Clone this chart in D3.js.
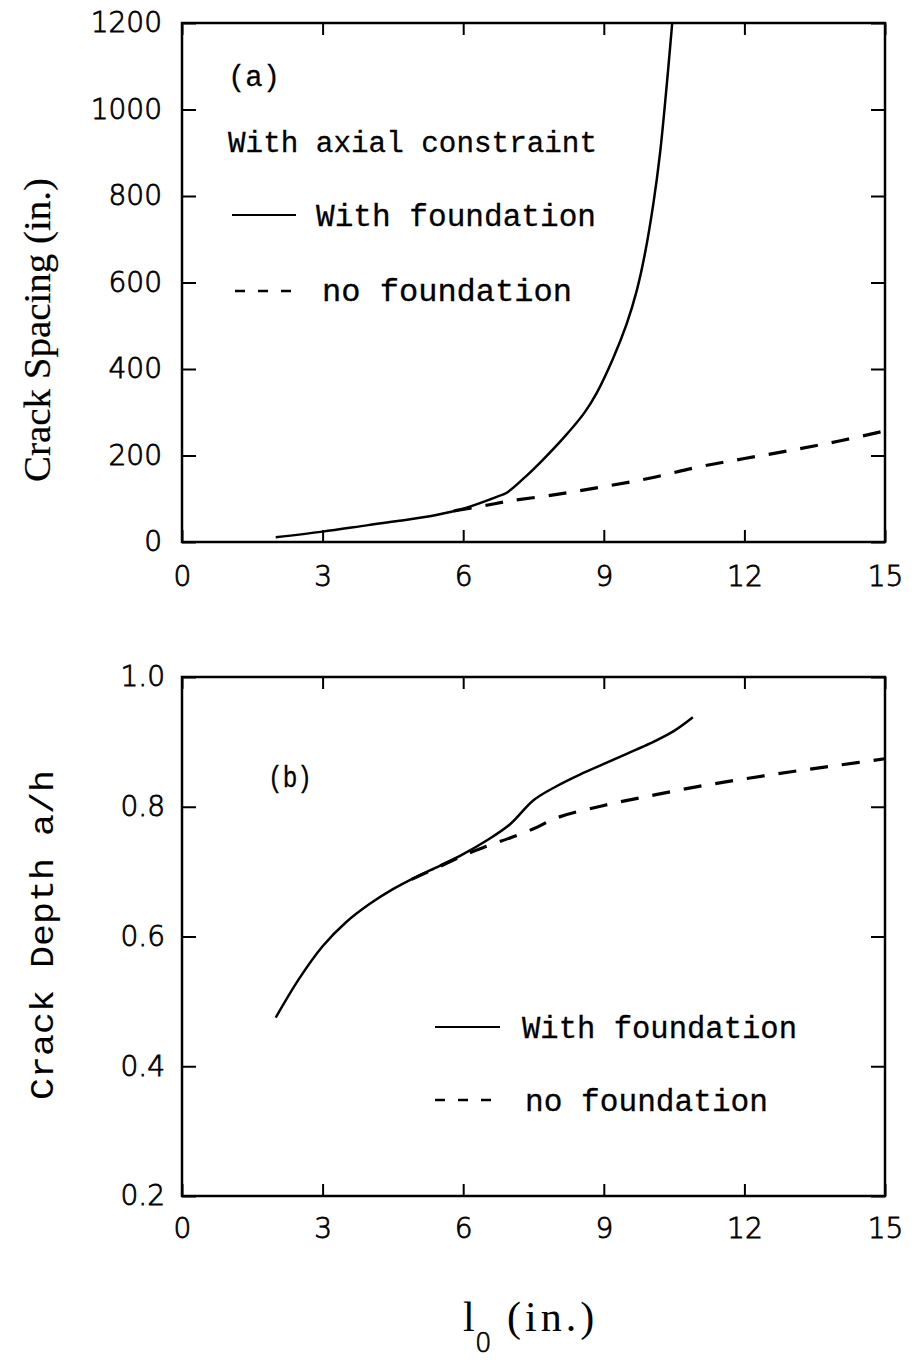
<!DOCTYPE html>
<html><head><meta charset="utf-8">
<script src="https://cdn.jsdelivr.net/npm/d3@7"></script>
<style>body{margin:0;background:#fff}</style>
</head><body>
<svg id="c" width="915" height="1360"></svg>
<script>
// ---- data ----
const xTicks = [0, 3, 6, 9, 12, 15];
const yTicksA = [0, 200, 400, 600, 800, 1000, 1200];
const yTicksB = [0.2, 0.4, 0.6, 0.8, 1.0];

const aSolidL = [2, 3, 3.97, 4.64, 5.4, 5.97, 6.73, 6.93, 7.32, 7.7, 8.16, 8.58, 8.85, 9.2, 9.49, 9.7, 9.88, 10.06, 10.2, 10.34, 10.46];
const aSolidV = [11, 24, 39, 49, 62, 76, 105, 114, 150, 190, 243, 298, 345, 425, 505, 580, 668, 784, 899, 1053, 1200];
const aDashL = [5.8, 6.5, 7, 8, 9, 10, 11, 12, 13, 14, 15];
const aDashV = [72, 85, 95, 110, 128, 148, 173, 193, 212, 233, 257];

const bSolidL = [2, 2.5, 3, 3.5, 4, 4.5, 5, 5.5, 6, 6.5, 7, 7.5, 8, 8.5, 9, 9.5, 10, 10.5, 10.9];
const bSolidV = [0.475, 0.535, 0.585, 0.622, 0.65, 0.673, 0.692, 0.709, 0.727, 0.748, 0.773, 0.81, 0.832, 0.85, 0.866, 0.882, 0.898, 0.917, 0.938];
const bDashL = [4.9, 5.5, 6, 6.5, 7, 7.5, 8, 9, 10, 11, 12, 13, 14, 15];
const bDashV = [0.688, 0.708, 0.725, 0.739, 0.752, 0.766, 0.783, 0.802, 0.817, 0.831, 0.843, 0.854, 0.864, 0.874];

const legendLabels = ["With foundation", "no foundation"];

// ---- drawing ----
const svg = d3.select("#c");
const L = 182, R = 885;
const x = d3.scaleLinear().domain([0, 15]).range([L, R]);
const sans = "DejaVu Sans, Liberation Sans, sans-serif";

function panel(top, bottom, yDomain, yTicks, fmt, padY, padX) {
  const y = d3.scaleLinear().domain(yDomain).range([bottom, top]);
  const g = svg.append("g");
  g.append("rect").attr("x", L).attr("y", top).attr("width", R - L).attr("height", bottom - top)
    .attr("fill", "none").attr("stroke", "#000").attr("stroke-width", 2.5);
  const bx = g.append("g").attr("transform", `translate(0,${bottom})`)
    .call(d3.axisBottom(x).tickValues(xTicks).tickSizeInner(-12).tickSizeOuter(0).tickPadding(padX));
  const tx = g.append("g").attr("transform", `translate(0,${top})`)
    .call(d3.axisTop(x).tickValues(xTicks).tickSizeInner(-12).tickSizeOuter(0).tickFormat(""));
  const ly = g.append("g").attr("transform", `translate(${L},0)`)
    .call(d3.axisLeft(y).tickValues(yTicks).tickFormat(fmt).tickSizeInner(-14).tickSizeOuter(0).tickPadding(padY));
  const ry = g.append("g").attr("transform", `translate(${R},0)`)
    .call(d3.axisRight(y).tickValues(yTicks).tickSizeInner(-14).tickSizeOuter(0).tickFormat(""));
  [bx, tx, ly, ry].forEach(a => {
    a.select(".domain").remove();
    a.selectAll(".tick line").attr("stroke", "#000").attr("stroke-width", 2);
    a.selectAll("text").attr("font-family", sans)
      .attr("font-size", 28).attr("fill", "#000").attr("font-weight", 200)
      .attr("stroke", "#000").attr("stroke-width", 0.8);
  });
  bx.selectAll("text").attr("dy", "0.73em");
  return y;
}

const yA = panel(23, 542, [0, 1200], yTicksA, d3.format("d"), 20, 24);
const yB = panel(677, 1196, [0.2, 1.0], yTicksB, d3.format(".1f"), 17, 22);

function drawLine(ls, vs, y, dashed) {
  const pts = ls.map((l, i) => [l, vs[i]]);
  svg.append("path").datum(pts)
    .attr("d", d3.line().x(d => x(d[0])).y(d => y(d[1])).curve(d3.curveCatmullRom.alpha(0.5)))
    .attr("fill", "none").attr("stroke", "#000")
    .attr("stroke-width", dashed ? 3.2 : 2.5)
    .attr("stroke-dasharray", dashed ? "18,14" : null);
}
drawLine(aSolidL, aSolidV, yA, false);
drawLine(aDashL, aDashV, yA, true);
drawLine(bSolidL, bSolidV, yB, false);
drawLine(bDashL, bDashV, yB, true);

const mono = "Liberation Mono, Courier New, monospace";
function txt(s, xx, yy, size, len, fam) {
  const t = svg.append("text").attr("x", xx).attr("y", yy).attr("font-family", fam || mono)
    .attr("font-size", size).attr("fill", "#000").attr("stroke", "#000").attr("stroke-width", 0.3).text(s);
  if (len) t.attr("textLength", len).attr("lengthAdjust", "spacingAndGlyphs");
  return t;
}

// panel a annotations
txt("(a)", 228, 86, 30, 52);
txt("With axial constraint", 228, 152, 30, 369);
svg.append("line").attr("x1", 232).attr("x2", 296).attr("y1", 215).attr("y2", 215).attr("stroke", "#000").attr("stroke-width", 2.2);
txt(legendLabels[0], 316, 226, 31, 280);
svg.append("line").attr("x1", 235).attr("x2", 302).attr("y1", 291).attr("y2", 291).attr("stroke", "#000").attr("stroke-width", 2.5).attr("stroke-dasharray", "10,13");
txt(legendLabels[1], 322, 301, 31, 250);

// panel b annotations
txt("(b)", 268, 787, 30, 44);
svg.append("line").attr("x1", 435).attr("x2", 500).attr("y1", 1027).attr("y2", 1027).attr("stroke", "#000").attr("stroke-width", 2.2);
txt(legendLabels[0], 522, 1038, 31, 275);
svg.append("line").attr("x1", 435).attr("x2", 502).attr("y1", 1100).attr("y2", 1100).attr("stroke", "#000").attr("stroke-width", 2.5).attr("stroke-dasharray", "10,13");
txt(legendLabels[1], 525, 1111, 31, 243);

// axis titles
svg.append("text").attr("transform", "translate(50,330) rotate(-90)").attr("text-anchor", "middle")
  .attr("font-family", "Liberation Serif, DejaVu Serif, serif").attr("font-size", 37).attr("textLength", 304)
  .attr("lengthAdjust", "spacingAndGlyphs").attr("stroke", "#000").attr("stroke-width", 0.2).text("Crack Spacing (in.)");
svg.append("text").attr("transform", "translate(53,935) rotate(-90)").attr("text-anchor", "middle")
  .attr("font-family", mono).attr("font-size", 34).attr("textLength", 330)
  .attr("lengthAdjust", "spacingAndGlyphs").text("Crack Depth a/h");

svg.append("text").attr("x", 463).attr("y", 1331).attr("font-family", "Liberation Serif, serif").attr("font-size", 42).text("l");
svg.append("text").attr("x", 475).attr("y", 1352).attr("font-family", sans).attr("font-size", 26).attr("font-weight", 200)
  .attr("stroke", "#000").attr("stroke-width", 0.7).text("0");
svg.append("text").attr("x", 507).attr("y", 1331).attr("font-family", "Liberation Serif, serif").attr("font-size", 42)
  .attr("letter-spacing", 4).text("(in.)");
</script>
</body></html>
